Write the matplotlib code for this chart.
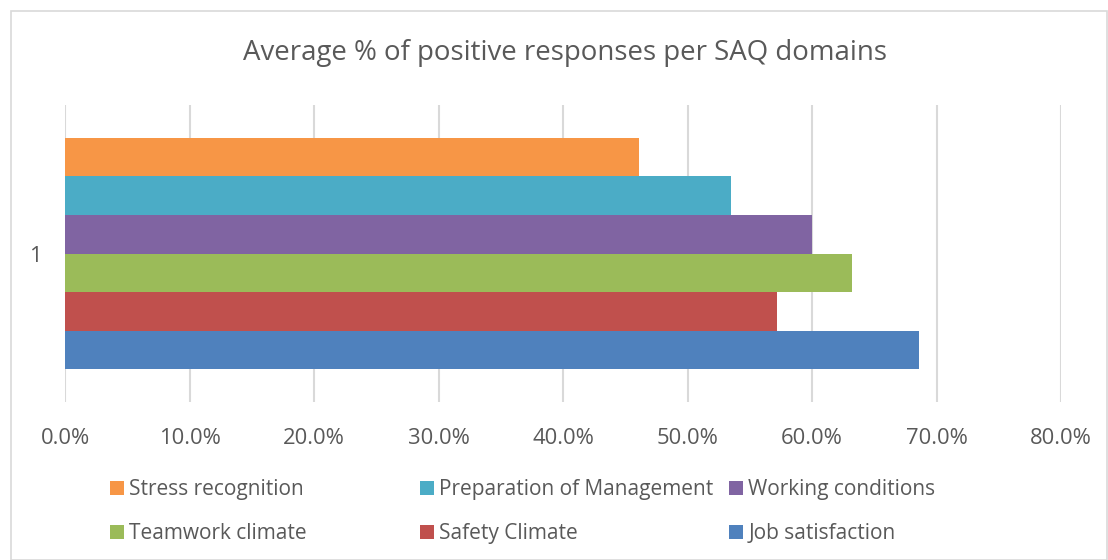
import matplotlib.pyplot as plt
from matplotlib.patches import Rectangle
from matplotlib.ticker import PercentFormatter

plt.rcParams["font.family"] = ["Open Sans", "DejaVu Sans"]

# series, bottom to top as drawn
domains = ["Job satisfaction", "Safety Climate", "Teamwork climate",
           "Working conditions", "Preparation of Management", "Stress recognition"]
values = [68.6, 57.2, 63.2, 60.0, 53.5, 46.1]
colors = ["#4F81BD", "#C0504D", "#9BBB59", "#8064A2", "#4BACC6", "#F79646"]
category = [1]
xticks = [0, 10, 20, 30, 40, 50, 60, 70, 80]

TXT = "#595959"
GRID = "#D9D9D9"

fig = plt.figure(figsize=(11.08, 5.6), dpi=100)
ax = fig.add_axes([65 / 1108, 1 - 402 / 560, (1061 - 65) / 1108, (402 - 105) / 560])

n = len(domains)
group = 0.778
h = group / n
for i, (name, v, c) in enumerate(zip(domains, values, colors)):
    y = category[0] - group / 2 + h * (i + 0.5)
    ax.barh(y, v / 100, height=h, color=c, label=name, zorder=3)

ax.set_xlim(0, 0.8)
ax.set_ylim(0.5, 1.5)
ax.set_xticks([t / 100 for t in xticks])
ax.xaxis.set_major_formatter(PercentFormatter(1.0, decimals=1))
ax.set_yticks(category)
ax.set_yticklabels([str(c) for c in category])
ax.tick_params(length=0, colors=TXT, labelsize=15.8)
ax.tick_params(axis="x", pad=19)
ax.tick_params(axis="y", pad=17)
ax.grid(axis="x", color=GRID, linewidth=1.5, zorder=0)
for s in ax.spines.values():
    s.set_visible(False)

fig.text(565 / 1108, 1 - 53 / 560, "Average % of positive responses per SAQ domains",
         ha="center", va="center", fontsize=19.9, color=TXT)

# legend: three columns, top row then bottom row, as in the reference
handles, labels = ax.get_legend_handles_labels()
columns = [(5, 2), (4, 1), (3, 0)]
col_x = [110, 420, 729]
for (a, b), x in zip(columns, col_x):
    leg = fig.legend([handles[a], handles[b]], [labels[a], labels[b]],
                     loc="upper left", bbox_to_anchor=(x / 1108, 1 - 479 / 560),
                     frameon=False, fontsize=15, labelcolor=TXT,
                     handlelength=0.67, handleheight=0.67, handletextpad=0.25,
                     labelspacing=1.1, borderpad=0, borderaxespad=0)

fig.patches.append(Rectangle((11 / 1108, 0), 1096 / 1108, 1 - 11 / 560,
                             transform=fig.transFigure, fill=False,
                             edgecolor=GRID, linewidth=1.2))

fig.savefig("out.png", dpi=100)
